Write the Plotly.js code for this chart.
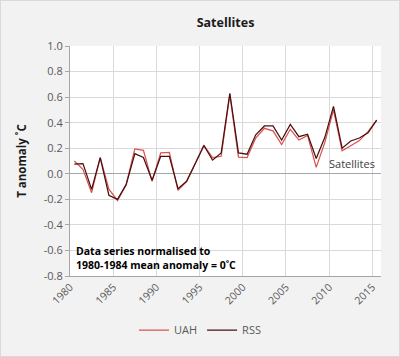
<!DOCTYPE html>
<html>
<head>
<meta charset="utf-8">
<script src="https://cdn.plot.ly/plotly-3.0.1.min.js"></script>
<style>
html,body{margin:0;padding:0;background:#f2f2f2;}
#chart{width:398px;height:355px;border:1px solid #d9d9d9;}
</style>
</head>
<body>
<div id="chart"></div>
<script>
const years = [1980,1981,1982,1983,1984,1985,1986,1987,1988,1989,1990,1991,1992,1993,1994,1995,1996,1997,1998,1999,2000,2001,2002,2003,2004,2005,2006,2007,2008,2009,2010,2011,2012,2013,2014,2015];
const uah = [0.10,0.035,-0.148,0.127,-0.12,-0.21,-0.085,0.195,0.183,-0.06,0.163,0.168,-0.13,-0.059,0.081,0.221,0.127,0.137,0.62,0.13,0.127,0.28,0.356,0.336,0.229,0.348,0.264,0.30,0.05,0.246,0.50,0.18,0.22,0.26,0.33,0.42];
const rss = [0.076,0.08,-0.122,0.127,-0.168,-0.20,-0.085,0.157,0.127,-0.05,0.137,0.137,-0.117,-0.059,0.081,0.221,0.107,0.163,0.63,0.163,0.153,0.305,0.374,0.374,0.264,0.386,0.29,0.31,0.119,0.285,0.527,0.20,0.257,0.28,0.32,0.42];
const tickYears = [1980,1985,1990,1995,2000,2005,2010,2015];
const yTicks = [-0.8,-0.6,-0.4,-0.2,0.0,0.2,0.4,0.6,0.8,1.0];
const yTickLabels = ['-0.8','-0.6','-0.4','-0.2','0.0','0.2','0.4','0.6','0.8','1.0'];
const seriesNames = ['UAH','RSS'];

const tickPos = tickYears.map(y => y - 0.5);
const font = "'Open Sans', 'Noto Sans', sans-serif";

const traces = [
  {x: years, y: uah, name: seriesNames[0], type: 'scatter', mode: 'lines',
   line: {color: '#d9534f', width: 1.25}},
  {x: years, y: rss, name: seriesNames[1], type: 'scatter', mode: 'lines',
   line: {color: '#4a1010', width: 1.25}}
];

const layout = {
  width: 398, height: 355,
  margin: {l: 69, r: 18, t: 45, b: 74},
  paper_bgcolor: '#f2f2f2',
  plot_bgcolor: '#ffffff',
  font: {family: font, size: 11, color: '#595959'},
  title: {text: '<b>Satellites</b>', x: 0.5, xref: 'paper', y: 0.938, yref: 'container',
          xanchor: 'center', yanchor: 'middle',
          font: {family: font, size: 12.5, color: '#1a1a1a'}},
  xaxis: {
    range: [1979.5, 2015.5],
    tickvals: tickPos, ticktext: tickYears.map(String),
    tickangle: -45,
    showgrid: true, gridcolor: '#d9d9d9', gridwidth: 1,
    showline: true, linecolor: '#a6a6a6', linewidth: 1,
    ticks: '', zeroline: false,
    tickfont: {family: font, size: 10.5, color: '#595959'}
  },
  yaxis: {
    range: [-0.8, 1.0], tickvals: yTicks, ticktext: yTickLabels,
    showgrid: true, gridcolor: '#d9d9d9', gridwidth: 1,
    zeroline: true, zerolinecolor: '#a6a6a6', zerolinewidth: 1,
    showline: true, linecolor: '#a6a6a6', linewidth: 1,
    ticks: 'outside', ticklen: 4, tickcolor: '#a6a6a6',
    tickfont: {family: font, size: 11, color: '#595959'},
    title: {text: '<b>T anomaly ˚C</b>', standoff: 14,
            font: {family: font, size: 11.5, color: '#1a1a1a'}}
  },
  showlegend: true,
  legend: {orientation: 'h', x: 0.418, xanchor: 'center', y: -0.235, yanchor: 'middle',
           bgcolor: 'rgba(0,0,0,0)', font: {family: font, size: 11, color: '#595959'},
           itemwidth: 30, tracegroupgap: 0},
  annotations: [
    {text: 'Satellites', xref: 'paper', yref: 'y', x: 0.987, y: 0.08,
     xanchor: 'right', yanchor: 'middle', showarrow: false,
     font: {family: font, size: 11, color: '#404040'}},
    {text: '<b>Data series normalised to<br>1980-1984 mean anomaly = 0˚C</b>',
     xref: 'paper', yref: 'y', x: 0.013, y: -0.66, align: 'left',
     xanchor: 'left', yanchor: 'middle', showarrow: false,
     font: {family: font, size: 10.5, color: '#000000'}}
  ]
};

Plotly.newPlot('chart', traces, layout, {displayModeBar: false, staticPlot: true});
</script>
</body>
</html>
